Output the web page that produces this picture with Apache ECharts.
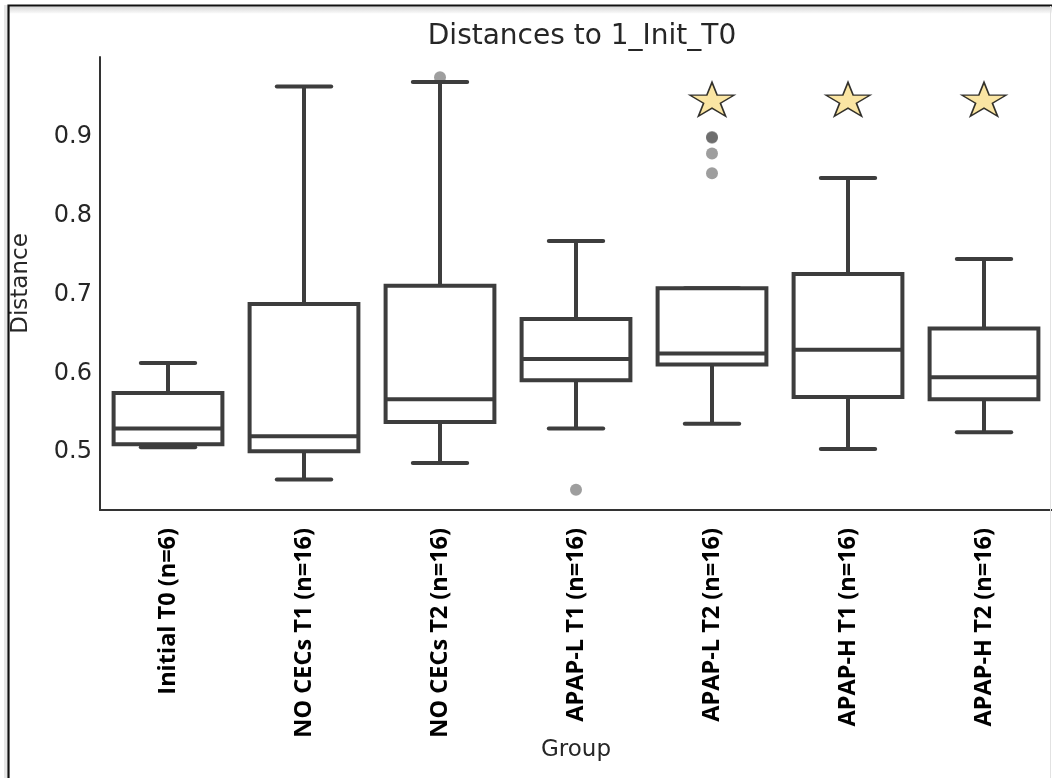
<!DOCTYPE html>
<html>
<head>
<meta charset="utf-8">
<title>Distances to 1_Init_T0</title>
<script src="https://cdn.jsdelivr.net/npm/echarts@6/dist/echarts.min.js"></script>
<style>
  html, body { margin: 0; padding: 0; background: #ffffff; }
  #chart { width: 1052px; height: 778px; }
</style>
</head>
<body>
<div id="chart"></div>
<script>
// Groups along the x axis
const groups = [
  'Initial T0 (n=6)',
  'NO CECs T1 (n=16)',
  'NO CECs T2 (n=16)',
  'APAP-L T1 (n=16)',
  'APAP-L T2 (n=16)',
  'APAP-H T1 (n=16)',
  'APAP-H T2 (n=16)'
];

// Box statistics per group
const lowerWhisker = [0.506, 0.465, 0.486, 0.530, 0.536, 0.504, 0.525];
const q1           = [0.510, 0.501, 0.538, 0.591, 0.611, 0.570, 0.567];
const median       = [0.530, 0.520, 0.567, 0.618, 0.625, 0.630, 0.595];
const q3           = [0.575, 0.688, 0.711, 0.669, 0.708, 0.726, 0.657];
const upperWhisker = [0.613, 0.964, 0.970, 0.768, 0.708, 0.848, 0.745];

// Outliers: group index and value
const outlierGroup = [2, 3, 4, 4, 4, 4];
const outlierValue = [0.976, 0.452, 0.899, 0.900, 0.879, 0.854];

// Groups marked as significantly different, and the level of the marker
const significantGroups = [4, 5, 6];
const markerLevel = 0.948;

// Y axis tick labels
const yTicks = [0.5, 0.6, 0.7, 0.8, 0.9];

const boxData = groups.map((g, i) => [i, lowerWhisker[i], q1[i], median[i], q3[i], upperWhisker[i]]);
const outlierData = outlierGroup.map((g, i) => [g, outlierValue[i]]);
const starData = significantGroups.map(g => [g, markerLevel]);

const LINE = '#3d3d3d';
const LW = 4;

function renderBox(params, api) {
  const x = api.value(0);
  const band = api.size([1, 0])[0];
  const boxHalf = band * 0.4;
  const capHalf = band * 0.2;
  const pLow = api.coord([x, api.value(1)]);
  const pQ1 = api.coord([x, api.value(2)]);
  const pMed = api.coord([x, api.value(3)]);
  const pQ3 = api.coord([x, api.value(4)]);
  const pHigh = api.coord([x, api.value(5)]);
  const cx = pQ1[0];
  const lineStyle = { stroke: LINE, lineWidth: LW, fill: null };
  const capStyle = { stroke: LINE, lineWidth: LW, lineCap: 'round', fill: null };
  return {
    type: 'group',
    children: [
      { type: 'line', shape: { x1: cx, y1: pQ3[1], x2: cx, y2: pHigh[1] }, style: lineStyle },
      { type: 'line', shape: { x1: cx, y1: pQ1[1], x2: cx, y2: pLow[1] }, style: lineStyle },
      { type: 'line', shape: { x1: cx - capHalf, y1: pHigh[1], x2: cx + capHalf, y2: pHigh[1] }, style: capStyle },
      { type: 'line', shape: { x1: cx - capHalf, y1: pLow[1], x2: cx + capHalf, y2: pLow[1] }, style: capStyle },
      {
        type: 'rect',
        shape: { x: cx - boxHalf, y: pQ3[1], width: boxHalf * 2, height: pQ1[1] - pQ3[1] },
        style: { fill: '#ffffff', stroke: LINE, lineWidth: LW }
      },
      { type: 'line', shape: { x1: cx - boxHalf, y1: pMed[1], x2: cx + boxHalf, y2: pMed[1] }, style: lineStyle }
    ]
  };
}

const starPath = 'path://M0,-100 L22.45,-30.9 L95.11,-30.9 L36.33,11.8 L58.78,80.9 L0,38.2 L-58.78,80.9 L-36.33,11.8 L-95.11,-30.9 L-22.45,-30.9 Z';

const chart = echarts.init(document.getElementById('chart'), null, { renderer: 'canvas' });

chart.setOption({
  backgroundColor: '#ffffff',
  animation: false,
  title: {
    text: 'Distances to 1_Init_T0',
    left: 577,
    top: 18,
    textAlign: 'center',
    textStyle: { fontFamily: 'DejaVu Sans', fontSize: 28, fontWeight: 'normal', color: '#262626' }
  },
  grid: { left: 100, top: 57, width: 962, height: 453, containLabel: false },
  xAxis: {
    type: 'category',
    data: groups,
    boundaryGap: true,
    name: 'Group',
    nameLocation: 'middle',
    nameGap: 229,
    nameMoveOverlap: false,
    nameTextStyle: { fontFamily: 'DejaVu Sans', fontSize: 23, color: '#262626' },
    axisLine: { show: true, lineStyle: { color: '#333333', width: 2 } },
    axisTick: { show: false },
    axisLabel: {
      rotate: 90,
      margin: 18,
      interval: 0,
      fontFamily: 'Open Sans',
      fontWeight: 'bold',
      fontSize: 23.5,
      color: '#000000'
    },
    splitLine: { show: false }
  },
  yAxis: {
    type: 'value',
    min: 0.4264,
    max: 1.0016,
    name: 'Distance',
    nameLocation: 'middle',
    nameRotate: 90,
    nameGap: 67,
    nameMoveOverlap: false,
    nameTextStyle: { fontFamily: 'DejaVu Sans', fontSize: 23, color: '#262626' },
    axisLine: { show: true, lineStyle: { color: '#333333', width: 2 } },
    axisTick: { show: false },
    axisLabel: {
      customValues: yTicks,
      margin: 8,
      padding: [6, 0, 0, 0],
      fontFamily: 'DejaVu Sans',
      fontSize: 24,
      color: '#262626',
      formatter: v => v.toFixed(1)
    },
    splitLine: { show: false }
  },
  series: [
    {
      type: 'custom',
      name: 'box',
      renderItem: renderBox,
      encode: { x: 0, y: [1, 2, 3, 4, 5] },
      data: boxData,
      clip: false,
      z: 2
    },
    {
      type: 'scatter',
      name: 'outliers',
      data: outlierData,
      symbol: 'circle',
      symbolSize: 12,
      itemStyle: { color: '#3d3d3d', opacity: 0.5 },
      z: 3
    },
    {
      type: 'scatter',
      name: 'significant',
      data: starData,
      symbol: starPath,
      symbolSize: [44, 34],
      itemStyle: { color: '#f9df8c', borderColor: '#000000', borderWidth: 1.5 },
      z: 4
    }
  ],
  graphic: [
    {
      type: 'rect',
      shape: { x: 9, y: 6.5, width: 1043, height: 7 },
      style: {
        fill: new echarts.graphic.LinearGradient(0, 0, 0, 1, [
          { offset: 0, color: '#d6d6d6' },
          { offset: 1, color: '#fbfbfb' }
        ])
      },
      silent: true,
      z: 0
    },
    {
      type: 'rect',
      shape: { x: 4, y: 5, width: 3, height: 773 },
      style: { fill: '#e6e6e6' },
      silent: true,
      z: 0
    },
    {
      type: 'polyline',
      shape: { points: [[8.5, 778], [8.5, 5.5], [1052, 5.5]] },
      style: { stroke: '#111111', lineWidth: 2.2, fill: null },
      silent: true,
      z: 10
    },
    {
      type: 'line',
      shape: { x1: 1050.5, y1: 6, x2: 1050.5, y2: 778 },
      style: { stroke: '#e2e2e2', lineWidth: 1 },
      silent: true,
      z: 10
    }
  ]
});
</script>
</body>
</html>
